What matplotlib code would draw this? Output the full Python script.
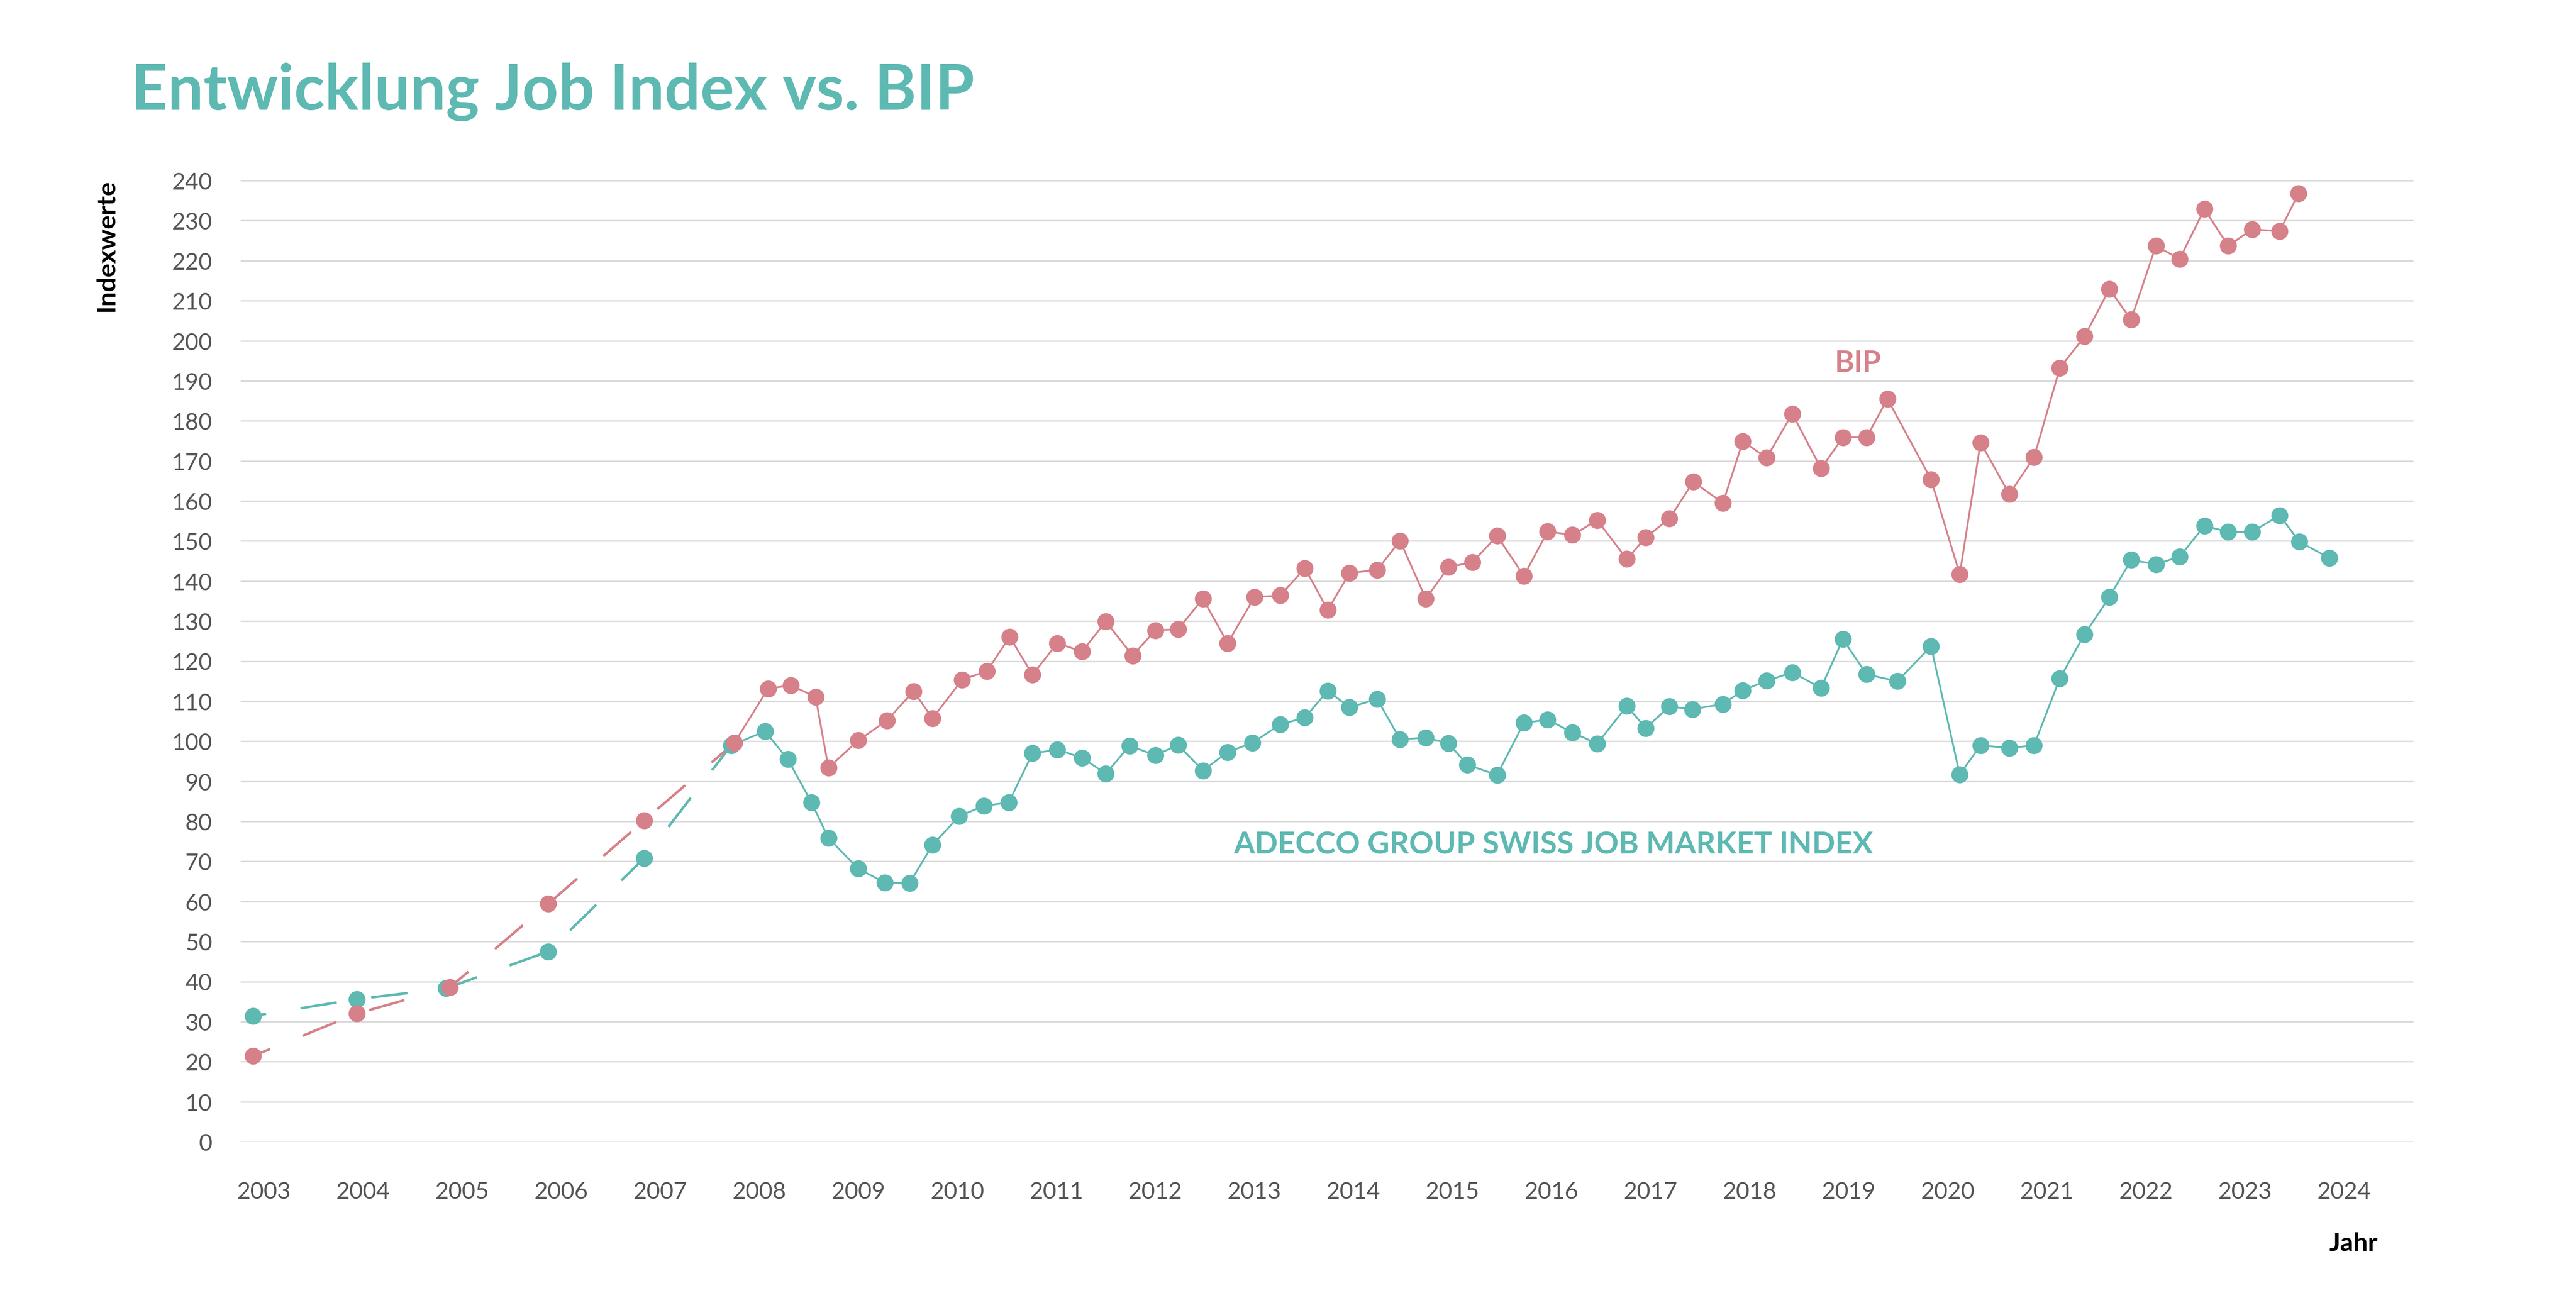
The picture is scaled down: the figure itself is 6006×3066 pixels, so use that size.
"""Entwicklung Job Index vs. BIP - line chart with markers."""

import matplotlib
matplotlib.use("Agg")
import matplotlib.pyplot as plt

# Adecco Group Swiss Job Market Index (decimal year, index value)
job_x = [2002.89, 2003.94, 2004.84, 2005.87, 2006.84, 2007.72,
         2008.06, 2008.29, 2008.53, 2008.70, 2009.00, 2009.27, 2009.52, 2009.75,
         2010.02, 2010.27, 2010.52, 2010.76, 2011.01, 2011.26, 2011.50, 2011.74,
         2012.00, 2012.23, 2012.48, 2012.73, 2012.98, 2013.26, 2013.51, 2013.74,
         2013.96, 2014.24, 2014.47, 2014.73, 2014.96, 2015.15, 2015.45, 2015.72,
         2015.96, 2016.21, 2016.46, 2016.76, 2016.95, 2017.19, 2017.42, 2017.73,
         2017.93, 2018.17, 2018.43, 2018.72, 2018.94, 2019.18, 2019.49, 2019.83,
         2020.12, 2020.33, 2020.62, 2020.87, 2021.13, 2021.38, 2021.63, 2021.85,
         2022.10, 2022.34, 2022.59, 2022.83, 2023.07, 2023.35, 2023.55, 2023.85]
job_y = [31.4, 35.6, 38.3, 47.5, 70.8, 99.0,
         102.5, 95.5, 84.7, 75.8, 68.2, 64.7, 64.6, 74.1,
         81.3, 83.9, 84.7, 97.0, 97.9, 95.9, 91.9, 98.9,
         96.5, 99.1, 92.7, 97.3, 99.6, 104.2, 105.9, 112.6,
         108.5, 110.5, 100.5, 100.9, 99.5, 94.1, 91.6, 104.6,
         105.4, 102.2, 99.4, 108.8, 103.3, 108.7, 108.0, 109.3,
         112.7, 115.1, 117.2, 113.3, 125.5, 116.7, 115.0, 123.7,
         91.7, 99.0, 98.3, 99.0, 115.7, 126.7, 136.0, 145.3,
         144.2, 146.1, 153.8, 152.3, 152.3, 156.4, 149.8, 145.8]

# BIP
bip_x = [2002.89, 2003.94, 2004.88, 2005.87, 2006.84, 2007.75,
         2008.09, 2008.32, 2008.57, 2008.70, 2009.00, 2009.29, 2009.56, 2009.75,
         2010.05, 2010.30, 2010.53, 2010.76, 2011.01, 2011.26, 2011.50, 2011.77,
         2012.00, 2012.23, 2012.48, 2012.73, 2013.00, 2013.26, 2013.51, 2013.74,
         2013.96, 2014.24, 2014.47, 2014.73, 2014.96, 2015.20, 2015.45, 2015.72,
         2015.96, 2016.21, 2016.46, 2016.76, 2016.95, 2017.19, 2017.43, 2017.73,
         2017.93, 2018.17, 2018.43, 2018.72, 2018.94, 2019.18, 2019.39, 2019.83,
         2020.12, 2020.33, 2020.62, 2020.87, 2021.13, 2021.38, 2021.63, 2021.85,
         2022.10, 2022.34, 2022.59, 2022.83, 2023.07, 2023.35, 2023.54]
bip_y = [21.4, 32.0, 38.6, 59.4, 80.2, 99.6,
         113.1, 114.0, 111.1, 93.4, 100.2, 105.2, 112.5, 105.7,
         115.4, 117.5, 126.1, 116.6, 124.5, 122.4, 129.9, 121.4,
         127.7, 128.0, 135.6, 124.5, 136.0, 136.4, 143.2, 132.8,
         142.0, 142.8, 150.1, 135.6, 143.5, 144.7, 151.3, 141.3,
         152.4, 151.5, 155.2, 145.5, 150.9, 155.6, 164.8, 159.5,
         174.9, 170.8, 181.8, 168.1, 175.9, 175.9, 185.5, 165.4,
         141.7, 174.6, 161.7, 170.9, 193.2, 201.1, 212.9, 205.3,
         223.7, 220.4, 232.9, 223.7, 227.8, 227.4, 236.8]

years = list(range(2003, 2025))
y_ticks = list(range(0, 241, 10))
n_annual = 6  # first points are yearly values, joined by a dashed line

TEAL = "#5db9b2"
ROSE = "#d6818a"
GREY = "#555555"

plt.rcParams["font.family"] = ["Lato", "DejaVu Sans"]
plt.rcParams["lines.scale_dashes"] = False

fig = plt.figure(figsize=(20.02, 10.223), dpi=300)
ax = fig.add_axes([0.0934, 0.1317, 0.8435, 0.7307])

for xs, ys, color, offset in [(job_x, job_y, TEAL, 13), (bip_x, bip_y, ROSE, 10)]:
    ax.plot(xs[:n_annual], ys[:n_annual], color=color, lw=1.4,
            linestyle=(offset, (20.5, 19.5)), clip_on=False, zorder=2)
    ax.plot(xs[n_annual - 1:], ys[n_annual - 1:], color=color, lw=1.0,
            clip_on=False, zorder=2)
    ax.plot(xs, ys, linestyle="none", marker="o", ms=9.5, color=color,
            markeredgewidth=0, clip_on=False, zorder=3)

ax.set_xlim(2002.766, 2024.70)
ax.set_ylim(0, 240)
ax.set_xticks(years)
ax.set_xticklabels([str(y) for y in years])
ax.set_yticks(y_ticks)
ax.tick_params(axis="both", length=0, labelsize=13, labelcolor=GREY)
ax.tick_params(axis="x", pad=22)
ax.tick_params(axis="y", pad=16)
ax.grid(axis="y", color="#d9d9d9", lw=0.8)
ax.set_axisbelow(True)
for s in ax.spines.values():
    s.set_visible(False)

ax.text(2019.09, 194.4, "BIP", color=ROSE, fontsize=16.5, fontweight="bold",
        ha="center", va="center")
ax.text(2016.02, 74.2, "ADECCO GROUP SWISS JOB MARKET INDEX", color=TEAL,
        fontsize=17, fontweight="bold", ha="center", va="center")

fig.text(0.0510, 0.9165, "Entwicklung Job Index vs. BIP", color=TEAL,
         fontsize=35.5, fontweight="bold", ha="left", va="baseline")
fig.text(0.0413, 0.8634, "Indexwerte", rotation=90, fontsize=14.5,
         fontweight="bold", ha="center", va="top", color="black")
fig.text(0.9136, 0.0545, "Jahr", fontsize=14.5, fontweight="bold",
         ha="center", va="center", color="black")

fig.savefig("out.png", dpi=300)
plt.close(fig)
